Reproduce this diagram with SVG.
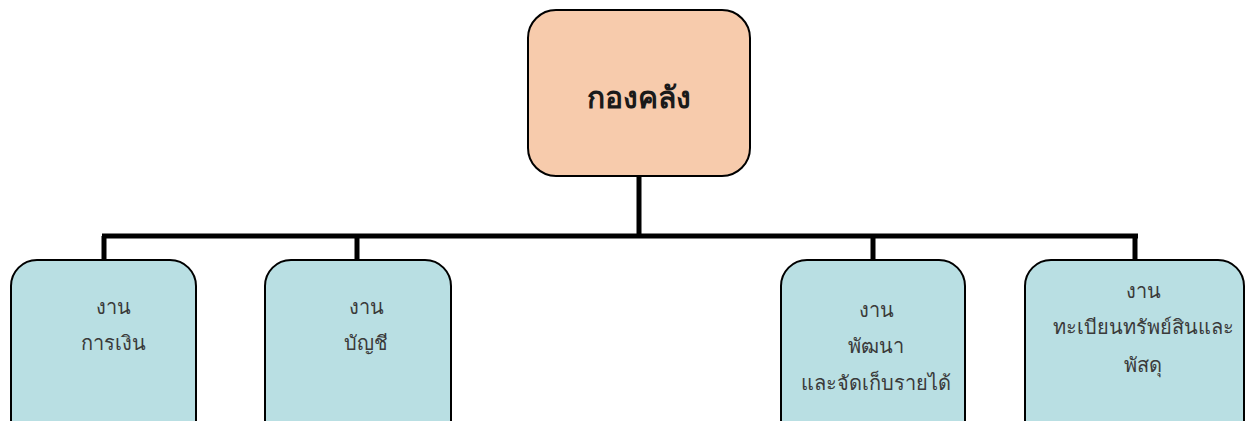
<svg xmlns="http://www.w3.org/2000/svg" width="1247" height="421" viewBox="0 0 1247 421">
<style>
.box{stroke:#000;stroke-width:2}
.top{fill:#F7CBAC}
.sub{fill:#B9DFE3}
.conn{stroke:#000;stroke-width:5;fill:none}
text{font-family:"Noto Sans","DejaVu Sans",sans-serif;fill:#1a1a1a;text-anchor:middle}
.t{font-size:30px;font-weight:bold}
.s{font-size:20px;font-weight:normal;fill:#3a3a3a}
</style>
<rect width="1247" height="421" fill="#fff"/>
<g id="connectors">
<path class="conn" d="M639 176V236M102 236H1138M104 236V260M357 236V260M873 236V260M1135 236V260"/>
</g>
<g id="node-root">
<rect class="box top" x="528" y="10" width="222" height="166" rx="28"/>
<text class="t" x="639" y="108">กองคลัง</text>
</g>
<g id="node-finance">
<rect class="box sub" x="11" y="260" width="185" height="190" rx="26"/>
<text class="s" x="113" y="314">งาน</text>
<text class="s" x="113" y="350">การเงิน</text>
</g>
<g id="node-accounting">
<rect class="box sub" x="265" y="260" width="186" height="190" rx="26"/>
<text class="s" x="366" y="314">งาน</text>
<text class="s" x="366" y="350">บัญชี</text>
</g>
<g id="node-revenue">
<rect class="box sub" x="781" y="260" width="184" height="190" rx="26"/>
<text class="s" x="876" y="317">งาน</text>
<text class="s" x="876" y="353">พัฒนา</text>
<text class="s" x="876" y="390">และจัดเก็บรายได้</text>
</g>
<g id="node-assets">
<rect class="box sub" x="1025" y="260" width="219" height="190" rx="26"/>
<text class="s" x="1143" y="298">งาน</text>
<text class="s" x="1143" y="334">ทะเบียนทรัพย์สินและ</text>
<text class="s" x="1143" y="372">พัสดุ</text>
</g>
</svg>
